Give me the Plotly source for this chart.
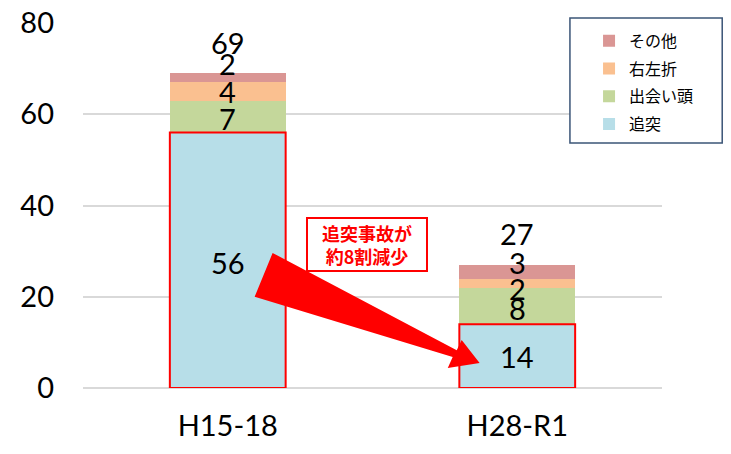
import plotly.graph_objects as go

# ---- data ----
categories = ["H15-18", "H28-R1"]
series_names = ["追突", "出会い頭", "右左折", "その他"]
rear_end = [56, 14]
crossing = [7, 8]
turning = [4, 2]
other = [2, 3]
series_values = [rear_end, crossing, turning, other]
colors = ["#b7dee8", "#c4d79b", "#fac090", "#da9694"]
callout_text = "追突事故が<br>約8割減少"

# ---- style ----
NUM_FONT = "Lato, 'Noto Sans CJK JP', sans-serif"
JP_FONT = "'Noto Sans CJK JP', sans-serif"
BAR_W = 0.4
# px shifts for crowded segment labels: [series][category]
label_shift = [[-2, 0], [-2, -3], [0, -5], [14, 9]]
total_shift = 31

xpos = list(range(len(categories)))
totals = [sum(v[i] for v in series_values) for i in xpos]

fig = go.Figure()
n = len(series_names)
for k, (name, vals, col) in enumerate(zip(series_names, series_values, colors)):
    fig.add_trace(go.Bar(
        x=xpos, y=vals, name=name, width=BAR_W,
        marker=dict(color=col, line=dict(width=0)),
        legendgroup=name, legendrank=n - k, hoverinfo="skip",
    ))

annotations = []
for i in xpos:
    base = 0
    for k, vals in enumerate(series_values):
        v = vals[i]
        annotations.append(dict(
            x=i, y=base + v / 2, xref="x", yref="y", text=str(v),
            showarrow=False, yshift=label_shift[k][i],
            font=dict(family=NUM_FONT, size=29, color="black"),
        ))
        base += v
    annotations.append(dict(
        x=i, y=totals[i], xref="x", yref="y", text=str(totals[i]),
        showarrow=False, yshift=total_shift,
        font=dict(family=NUM_FONT, size=29, color="black"),
    ))

annotations.append(dict(
    x=0.48, y=31.5, xref="x", yref="y", text=callout_text, showarrow=False,
    font=dict(family=JP_FONT, size=18, color="#ff0000", weight="bold"),
    bordercolor="#ff0000", borderwidth=2, bgcolor="white",
    width=116, height=49, align="center",
))

shapes = []
# red outline around rear-end segments
for i in xpos:
    shapes.append(dict(
        type="rect", xref="x", yref="y",
        x0=i - BAR_W / 2, x1=i + BAR_W / 2, y0=0, y1=rear_end[i],
        line=dict(color="#ff0000", width=2), fillcolor="rgba(0,0,0,0)", layer="above",
    ))

# decreasing-arrow (tapered) from left bar to right bar
arrow_pts = [(0.155, 29.6), (0.791, 8.3), (0.808, 10.5), (0.870, 5.5),
             (0.760, 4.4), (0.777, 6.8), (0.093, 20.0)]
path = "M " + " L ".join(f"{x},{y}" for x, y in arrow_pts) + " Z"
shapes.append(dict(type="path", xref="x", yref="y", path=path,
                   fillcolor="#ff0000", line=dict(width=0), layer="above"))

# legend frame
shapes.append(dict(type="rect", xref="paper", yref="paper",
                   x0=0.841, x1=1.104, y0=0.671, y1=1.014,
                   line=dict(color="#3b5577", width=1.5), fillcolor="white", layer="above"))

fig.update_layout(
    width=731, height=454, autosize=False,
    margin=dict(l=83, r=69, t=23, b=66, autoexpand=False),
    plot_bgcolor="white", paper_bgcolor="white",
    barmode="stack",
    showlegend=True,
    legend=dict(
        x=0.874, y=0.998, xanchor="left", yanchor="top",
        traceorder="grouped", tracegroupgap=4,
        font=dict(family=JP_FONT, size=16, color="black"),
        bgcolor="rgba(0,0,0,0)", borderwidth=0,
    ),
    xaxis=dict(
        range=[-0.5, 1.5], tickvals=xpos, ticktext=categories,
        showgrid=False, zeroline=False, showline=False, ticks="",
        tickfont=dict(family=NUM_FONT, size=29, color="black"),
        ticklabelstandoff=18, automargin=False,
    ),
    yaxis=dict(
        range=[0, 80], dtick=20, tick0=0,
        showgrid=True, gridcolor="#d9d9d9", gridwidth=1.5,
        zeroline=True, zerolinecolor="#d9d9d9", zerolinewidth=1.5,
        showline=False, ticks="",
        tickfont=dict(family=NUM_FONT, size=29, color="black"),
        ticklabelstandoff=28, automargin=False,
    ),
    annotations=annotations,
    shapes=shapes,
)

fig.write_html("out.html")
